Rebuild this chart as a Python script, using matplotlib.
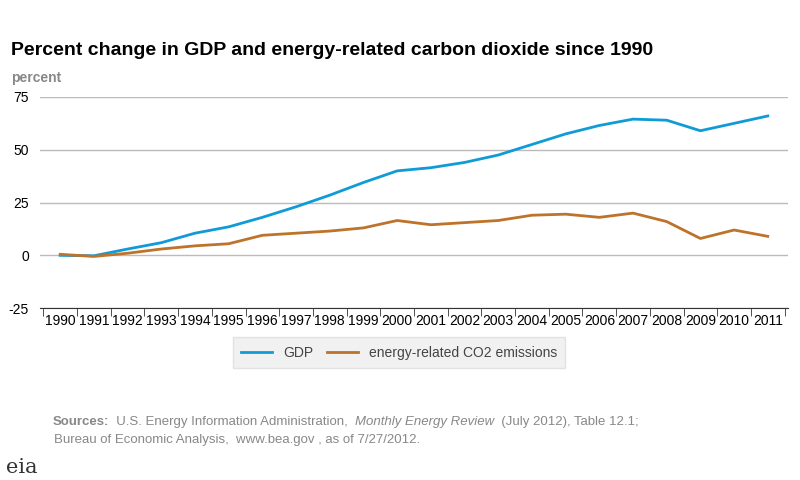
import matplotlib.pyplot as plt

years = [str(y) for y in range(1990, 2012)]
gdp = [0, -0.2, 3, 6, 10.5, 13.5, 18, 23, 28.5, 34.5, 40, 41.5, 44, 47.5,
       52.5, 57.5, 61.5, 64.5, 64, 59, 62.5, 66]
co2 = [0.5, -0.5, 1, 3, 4.5, 5.5, 9.5, 10.5, 11.5, 13, 16.5, 14.5, 15.5, 16.5,
       19, 19.5, 18, 20, 16, 8, 12, 9]

blue = "#0f9bd7"
brown = "#bd732a"

plt.rcParams['font.family'] = ['Liberation Sans', 'DejaVu Sans']
plt.rcParams['axes.unicode_minus'] = False
fig = plt.figure(figsize=(8, 4.8), dpi=100)
ax = fig.add_axes([0.05, 0.358, 0.935, 0.44])

x = list(range(len(years)))
ax.plot(x, gdp, color=blue, lw=2, label="GDP")
ax.plot(x, co2, color=brown, lw=2, label="energy-related CO2 emissions")

ax.set_xlim(-0.6, len(years) - 0.4)
ax.set_ylim(-25, 75)
ax.set_yticks([-25, 0, 25, 50, 75])
ax.tick_params(axis='y', length=0, labelsize=10, pad=8)
ax.grid(axis='y', color='#bbbbbb', lw=1)
ax.set_xticks(x)
ax.set_xticklabels(years, fontsize=10)
ax.set_xticks([i - 0.5 for i in range(len(years) + 1)], minor=True)
ax.tick_params(axis='x', which='major', length=0, pad=4)
ax.tick_params(axis='x', which='minor', length=6, color='#333333')
for s in ['top', 'right', 'left']:
    ax.spines[s].set_visible(False)
ax.spines['bottom'].set_color('#333333')
ax.set_axisbelow(True)

fig.text(0.014, 0.885, "Percent change in GDP and energy-related carbon dioxide since 1990",
         fontsize=14, fontweight='bold')
fig.text(0.014, 0.83, "percent", fontsize=10, fontweight='bold', color='#888888')

leg = fig.legend(loc='center', bbox_to_anchor=(0.499, 0.265), ncol=2, frameon=True,
                 fontsize=10, handlelength=2.2, columnspacing=1.0, borderpad=0.6)
leg.get_frame().set_facecolor('#eeeeee')
leg.get_frame().set_edgecolor('#dddddd')
leg.get_frame().set_boxstyle('square', pad=0)
for t in leg.get_texts():
    t.set_color('#444444')

# Sources line, pieces chained left to right
grey = '#888888'
parts = [("  U.S. Energy Information Administration,  ", 'normal', 'normal'),
         ("Monthly Energy Review", 'normal', 'italic'),
         ("  (July 2012), Table 12.1;", 'normal', 'normal')]
prev = fig.text(0.066, 0.115, "Sources:", fontsize=9.5, fontweight='bold', color=grey)
for txt, w, st in parts:
    prev = fig.add_artist(plt.Annotation(txt, xy=(1, 0), xycoords=prev, va='bottom',
                                         fontsize=9.5, fontweight=w, style=st, color=grey))
fig.text(0.068, 0.077, "Bureau of Economic Analysis,  www.bea.gov , as of 7/27/2012.",
         fontsize=9.5, color=grey)
fig.text(0.008, 0.015, "eia", fontsize=15, color='#333333', family='DejaVu Serif')

fig.savefig("out.png", dpi=100)
